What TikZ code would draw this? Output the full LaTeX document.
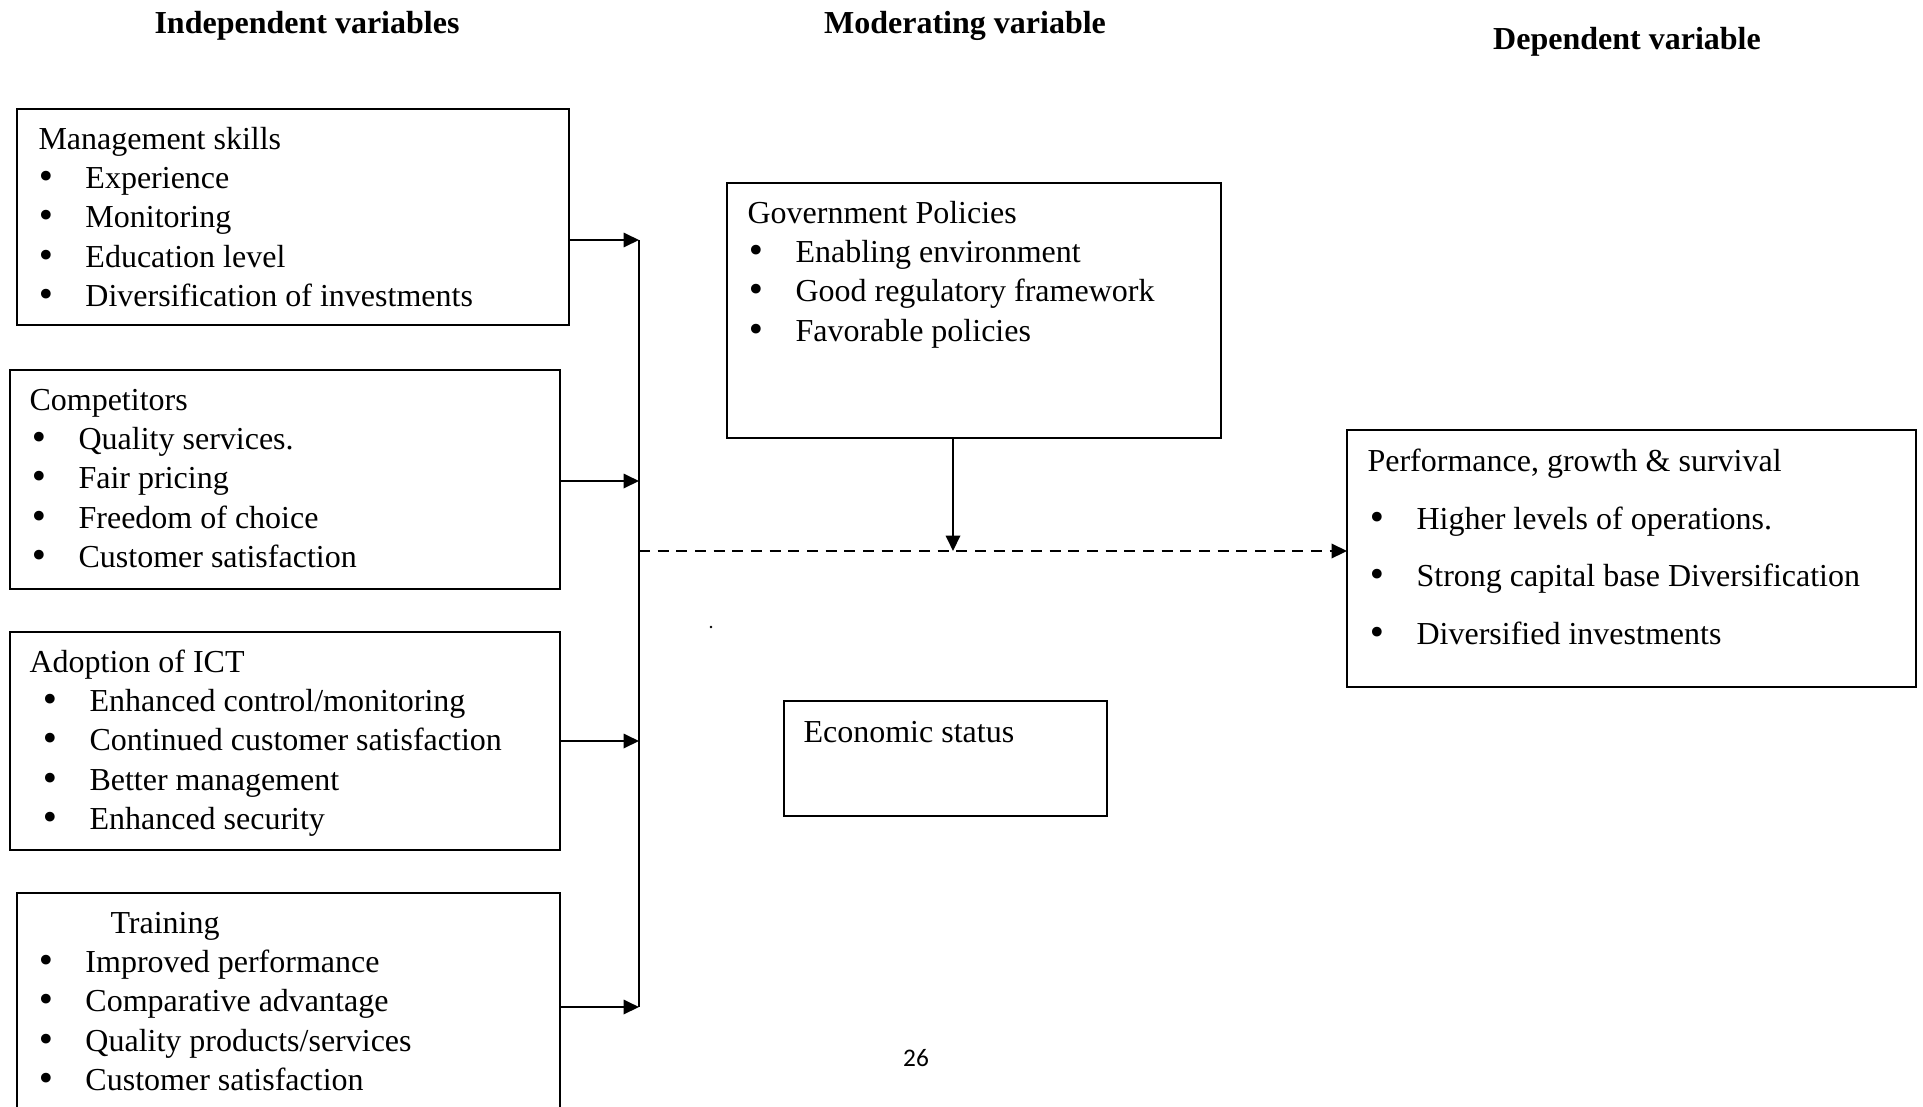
\documentclass[tikz,border=0pt]{standalone}
\usepackage{fontspec}
\setmainfont{Liberation Serif}
\newfontfamily\pagefont{Carlito}
\newfontfamily\bulfont{DejaVu Sans}
\usetikzlibrary{arrows.meta,positioning,calc}

% first line strut and bullet item
\newcommand{\ttl}[1]{\rule{0pt}{9pt}#1}
\newcommand{\itm}[2][-0.8pt]{\hspace*{#1}\makebox[18.4pt][l]{{\bulfont\fontsize{12.5}{12.5}\selectfont\symbol{"2022}}}#2}

\begin{document}
\begin{tikzpicture}[
  x=0.375pt, y=-0.375pt, % one unit = one pixel of the layout, y downwards
  font=\fontsize{12}{14.7}\selectfont,
  >={Triangle[length=5.8pt,width=5.4pt]},
  box/.style   ={draw,line width=0.7pt,inner sep=0pt,outer sep=0pt,anchor=north west},
  lst/.style   ={inner sep=0pt,anchor=north west,align=left},
  head/.style  ={font=\fontsize{12}{14.7}\selectfont\bfseries},
  link/.style  ={line width=0.8pt},
  arrow/.style ={->,line width=0.8pt},
  dashedarrow/.style={->,line width=0.9pt,dash pattern=on 4.1pt off 2.9pt}
]

\useasboundingbox (0,0) rectangle (1923,1106);
\clip (0,0) rectangle (1923,1106);

% ==================================================
% HEADINGS
% ==================================================
\node[head] (indep) at (307,26)  {Independent variables};
\node[head] (moder) at (965,26)  {Moderating variable};
\node[head] (depen) at (1627,42) {Dependent variable};

% ==================================================
% INDEPENDENT VARIABLES (left column)
% ==================================================
\node[box, minimum width=207pt, minimum height=81pt] (mgmt) at (17,109) {};
\node[lst] (mgmt-txt) at ([shift={(21,16)}]mgmt.north west)
  {\ttl{Management skills}\\
   \itm{Experience}\\
   \itm{Monitoring}\\
   \itm{Education level}\\
   \itm{Diversification of investments}};

\node[box, minimum width=206.25pt, minimum height=82.1pt] (comp) at (10,370) {};
\node[lst] (comp-txt) at ([shift={(19,16)}]comp.north west)
  {\ttl{Competitors}\\
   \itm[0pt]{Quality services.}\\
   \itm[0pt]{Fair pricing}\\
   \itm[0pt]{Freedom of choice}\\
   \itm[0pt]{Customer satisfaction}};

\node[box, minimum width=206.25pt, minimum height=81.75pt] (ict) at (10,632) {};
\node[lst] (ict-txt) at ([shift={(19,16)}]ict.north west)
  {\ttl{Adoption of ICT}\\
   \itm[4.1pt]{Enhanced control/monitoring}\\
   \itm[4.1pt]{Continued customer satisfaction}\\
   \itm[4.1pt]{Better management}\\
   \itm[4.1pt]{Enhanced security}};

% runs off the bottom of the page
\node[box, minimum width=203.6pt, minimum height=90pt] (train) at (17,893) {};
\node[lst] (train-txt) at ([shift={(21,16)}]train.north west)
  {\ttl{\hspace*{27pt}Training}\\
   \itm{Improved performance}\\
   \itm{Comparative advantage}\\
   \itm{Quality products/services}\\
   \itm{Customer satisfaction}};

% ==================================================
% MODERATING VARIABLES (middle)
% ==================================================
\node[box, minimum width=185.25pt, minimum height=95.6pt] (gov) at (727,183) {};
\node[lst] (gov-txt) at ([shift={(20,16)}]gov.north west)
  {\ttl{Government Policies}\\
   \itm[-0.4pt]{Enabling environment}\\
   \itm[-0.4pt]{Good regulatory framework}\\
   \itm[-0.4pt]{Favorable policies}};

\node[box, minimum width=121.1pt, minimum height=43.1pt] (econ) at (784,701) {};
\node[lst] (econ-txt) at ([shift={(19,17)}]econ.north west) {\ttl{Economic status}};

\node[circle, fill, inner sep=0pt, minimum size=1pt] (speck) at (711,627) {};

% ==================================================
% DEPENDENT VARIABLE (right)
% ==================================================
\node[box, minimum width=213.4pt, minimum height=96.4pt] (perf) at (1347,430) {};
\node[lst, font=\fontsize{12}{21.6}\selectfont] (perf-txt) at ([shift={(20,17)}]perf.north west)
  {\ttl{Performance, growth \& survival}\\
   \itm[0pt]{Higher levels of operations.}\\
   \itm[0pt]{Strong capital base Diversification}\\
   \itm[0pt]{Diversified investments}};

\node[font=\fontsize{9.5}{11}\pagefont] (pageno) at (916,1058) {26};

% ==================================================
% CONNECTORS
% ==================================================
\coordinate (b1) at (639,240);
\coordinate (b2) at (639,481);
\coordinate (b3) at (639,741);
\coordinate (b4) at (639,1007);
\coordinate (hub) at (639,551);
\coordinate (govdrop) at (953,551);

\draw[link] (b1) -- (b4);
\draw[arrow] (b1 -| mgmt.east)  -- (b1);
\draw[arrow] (b2 -| comp.east)  -- (b2);
\draw[arrow] (b3 -| ict.east)   -- (b3);
\draw[arrow] (b4 -| train.east) -- (b4);

\draw[dashedarrow] (hub) -- (hub -| perf.west);
\draw[arrow] (govdrop |- gov.south) -- (govdrop);

\end{tikzpicture}
\end{document}
